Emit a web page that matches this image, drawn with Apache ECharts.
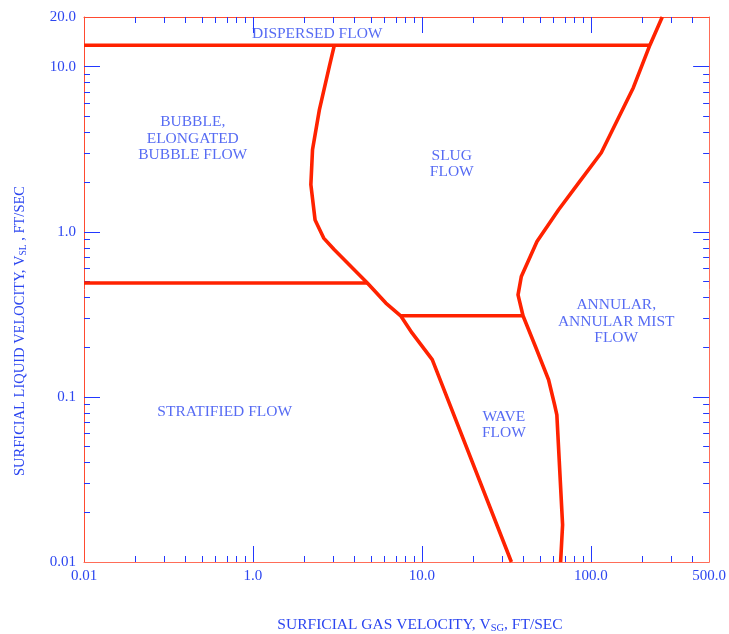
<!DOCTYPE html>
<html>
<head>
<meta charset="utf-8">
<title>Flow regime map</title>
<script src="https://cdn.jsdelivr.net/npm/echarts@6/dist/echarts.min.js"></script>
<style>
  html, body { margin: 0; padding: 0; background: #ffffff; }
  #chart { width: 729px; height: 634px; }
</style>
</head>
<body>
<div id="chart"></div>
<script>
// ---- Axis ticks and labels (gas velocity on x, liquid velocity on y, ft/sec) ----
const xMajorTicks = [1, 10, 100];
const xMinorTicks = [0.2, 0.3, 0.4, 0.5, 0.6, 0.7, 0.8, 0.9,
                     2, 3, 4, 5, 6, 7, 8, 9,
                     20, 30, 40, 50, 60, 70, 80, 90,
                     200, 300, 400];
const xLabelValues = [0.1, 1, 10, 100, 500];
const xLabelTexts = ['0.01', '1.0', '10.0', '100.0', '500.0'];

const yMajorTicks = [0.1, 1, 10];
const yMinorTicks = [0.02, 0.03, 0.04, 0.05, 0.06, 0.07, 0.08, 0.09,
                     0.2, 0.3, 0.4, 0.5, 0.6, 0.7, 0.8, 0.9,
                     2, 3, 4, 5, 6, 7, 8, 9];
const yLabelValues = [0.01, 0.1, 1, 10, 20];
const yLabelTexts = ['0.01', '0.1', '1.0', '10.0', '20.0'];

// ---- Regime boundaries: [gas velocity, liquid velocity] ----
const dispersedBoundary = [[0.1, 13.5], [223, 13.5]];
const bubbleSlugBoundary = [
  [3.03, 13.5], [2.83, 10.05], [2.47, 5.48], [2.25, 3.14], [2.20, 1.93],
  [2.33, 1.18], [2.62, 0.916], [3.03, 0.778], [4.75, 0.49], [6.11, 0.37],
  [7.48, 0.31], [8.73, 0.244], [11.5, 0.168], [33.8, 0.01]
];
const stratifiedBoundary = [[0.1, 0.49], [4.75, 0.49]];
const waveBoundary = [[7.48, 0.31], [39.6, 0.31]];
const annularBoundary = [
  [264, 20], [223, 13.5], [178, 7.46], [115, 3.01], [84.3, 1.97],
  [64.3, 1.36], [47.9, 0.873], [38.7, 0.536], [37.0, 0.415], [39.6, 0.31],
  [46.9, 0.202], [56.1, 0.127], [60.9, 0.0896], [62.8, 0.0778],
  [67.9, 0.0168], [66.1, 0.01]
];

// ---- Regime names and where they sit on the map ----
const regionNames = [
  'DISPERSED FLOW',
  'BUBBLE,\nELONGATED\nBUBBLE FLOW',
  'SLUG\nFLOW',
  'ANNULAR,\nANNULAR MIST\nFLOW',
  'STRATIFIED FLOW',
  'WAVE\nFLOW'
];
const regionAnchors = [
  [2.40, 15.85], [0.44, 3.66], [15.0, 2.58],
  [141, 0.285], [0.68, 0.081], [30.5, 0.0676]
];

const BLUE = '#2c46f0';
const TICK_BLUE = '#2238ff';
const RED = '#ff2200';
const FRAME = '#ff4a30';
const SERIF = '"Liberation Serif", "DejaVu Serif", serif';

function lookupLabel(values, texts) {
  return function (v) {
    for (let i = 0; i < values.length; i++) {
      if (Math.abs(v - values[i]) / values[i] < 1e-6) return texts[i];
    }
    return '';
  };
}

function xAxisDef(position, ticks, len, withLabels, lineColor) {
  return {
    type: 'log', logBase: 10, min: 0.1, max: 500, position: position,
    axisLine: { show: !!lineColor, onZero: false, lineStyle: { color: lineColor || FRAME, width: 1 } },
    axisTick: { show: true, inside: true, length: len, customValues: ticks,
                lineStyle: { color: TICK_BLUE, width: 1 } },
    axisLabel: withLabels ? {
      show: true, customValues: xLabelValues, margin: 7,
      formatter: lookupLabel(xLabelValues, xLabelTexts),
      color: BLUE, fontFamily: SERIF, fontSize: 15
    } : { show: false },
    splitLine: { show: false }, minorTick: { show: false }
  };
}

function yAxisDef(position, ticks, len, withLabels, lineColor) {
  return {
    type: 'log', logBase: 10, min: 0.01, max: 20, position: position,
    axisLine: { show: !!lineColor, onZero: false, lineStyle: { color: lineColor || FRAME, width: 1 } },
    axisTick: { show: true, inside: true, length: len, customValues: ticks,
                lineStyle: { color: TICK_BLUE, width: 1 } },
    axisLabel: withLabels ? {
      show: true, customValues: yLabelValues, margin: 8,
      formatter: lookupLabel(yLabelValues, yLabelTexts),
      color: BLUE, fontFamily: SERIF, fontSize: 15,
      verticalAlign: 'middle', padding: [0, 0, 8, 0]
    } : { show: false },
    splitLine: { show: false }, minorTick: { show: false }
  };
}

function boundary(data) {
  return {
    type: 'line', data: data, xAxisIndex: 0, yAxisIndex: 0,
    showSymbol: false, symbol: 'none', silent: true,
    lineStyle: { color: RED, width: 3.6, join: 'round' },
    z: 5
  };
}

const chart = echarts.init(document.getElementById('chart'), null, { renderer: 'canvas' });

chart.setOption({
  animation: false,
  backgroundColor: '#ffffff',
  grid: { left: 84, right: 18, top: 17, bottom: 72, containLabel: false },
  xAxis: [
    xAxisDef('bottom', xMajorTicks, 16, true, '#ff6d58'),
    xAxisDef('bottom', xMinorTicks, 6, false, null),
    xAxisDef('top', xMajorTicks, 16, false, FRAME),
    xAxisDef('top', xMinorTicks, 6, false, null)
  ],
  yAxis: [
    yAxisDef('left', yMajorTicks, 16, true, FRAME),
    yAxisDef('left', yMinorTicks, 6, false, null),
    yAxisDef('right', yMajorTicks, 16, false, '#ff6d58'),
    yAxisDef('right', yMinorTicks, 6, false, null)
  ],
  series: [
    boundary(dispersedBoundary),
    boundary(bubbleSlugBoundary),
    boundary(stratifiedBoundary),
    boundary(waveBoundary),
    boundary(annularBoundary),
    {
      type: 'scatter', xAxisIndex: 0, yAxisIndex: 0, silent: true,
      symbolSize: 0, data: regionAnchors,
      label: {
        show: true, position: 'inside', align: 'center', verticalAlign: 'middle',
        formatter: function (p) { return regionNames[p.dataIndex]; },
        color: BLUE, fontFamily: SERIF, fontSize: 15.5, lineHeight: 16.5
      },
      z: 6
    }
  ],
  graphic: [
    {
      type: 'text', x: 420, y: 625, silent: true,
      style: {
        text: '{a|SURFICIAL GAS VELOCITY, V}{s|SG}{a|, FT/SEC}',
        align: 'center', verticalAlign: 'middle',
        rich: {
          a: { fontFamily: SERIF, fontSize: 15.5, fill: BLUE, lineHeight: 18 },
          s: { fontFamily: SERIF, fontSize: 10.5, fill: BLUE, lineHeight: 10, verticalAlign: 'bottom' }
        }
      }
    },
    {
      type: 'text', x: 20, y: 331, rotation: Math.PI / 2, silent: true,
      style: {
        text: '{a|SURFICIAL LIQUID VELOCITY, V}{s|SL}{a| , FT/SEC}',
        align: 'center', verticalAlign: 'middle',
        rich: {
          a: { fontFamily: SERIF, fontSize: 14.5, fill: BLUE, lineHeight: 17 },
          s: { fontFamily: SERIF, fontSize: 9.5, fill: BLUE, lineHeight: 9, verticalAlign: 'bottom' }
        }
      }
    }
  ]
});
</script>
</body>
</html>
